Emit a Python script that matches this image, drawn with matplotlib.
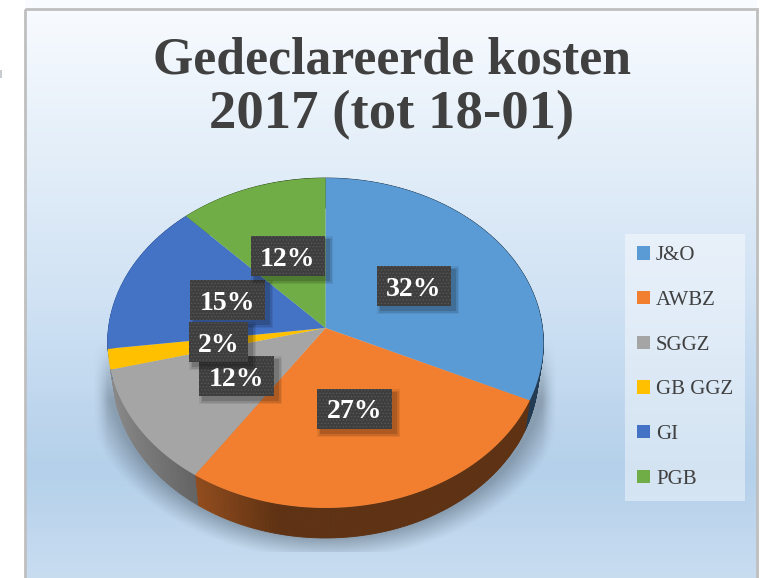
import numpy as np
import matplotlib
matplotlib.use('Agg')
import matplotlib.pyplot as plt
from matplotlib.patches import Rectangle, Patch

labels = ['J&O', 'AWBZ', 'SGGZ', 'GB GGZ', 'GI', 'PGB']
values = [32, 27.4, 11.6, 2, 15, 12]
colors = ['#5B9BD5', '#F27F30', '#A5A5A5', '#FFC000', '#4472C4', '#70AD47']
title_1 = 'Gedeclareerde kosten'
title_2 = '2017 (tot 18-01)'

plt.rcParams['font.family'] = ['Liberation Serif', 'DejaVu Serif']
plt.rcParams['hatch.linewidth'] = 0.6

W, H = 764, 578
fig = plt.figure(figsize=(W / 100, H / 100), dpi=100)
ax = fig.add_axes([0, 0, 1, 1])


# cirkel -> scherm met perspectief (achterkant kleiner dan voorkant)
def project(angle, depth=0):
    u = np.sin(angle)
    v = np.cos(angle)
    k = 0.0909
    den = 1 + k * v
    x = 325.5 + 217 * u / den * (1 - depth * 0.00077)
    y = 328 - 163.6 * v / den + depth
    return x, y


# achtergrond
stops_y = [9, 120, 300, 470, 578]
stops_c = np.array([[248, 251, 255], [232, 241, 250], [208, 226, 244], [180, 208, 234], [201, 221, 241]]) / 255
ys = np.arange(H)
grad = np.stack([np.interp(ys, stops_y, stops_c[:, i]) for i in range(3)], axis=1)[:, None, :]
bg = ax.imshow(grad, extent=(25, 757, H, 0), aspect='auto', zorder=0)

# schaduw onder de taart
xx, yy = np.meshgrid(np.arange(W), np.arange(H))
r = np.sqrt(((xx - 326) / 218) ** 2 + ((yy - 373) / 165) ** 2)
alpha = np.clip((1.13 - r) / 0.13, 0, 1) ** 1.1 * 0.40
alpha *= np.clip((yy - 340) / 60, 0, 1)
alpha *= np.clip((xx - 93) / 14, 0, 1) * np.clip((556 - xx) / 14, 0, 1)
alpha[yy > 551] = 0
shadow = np.zeros((H, W, 4))
shadow[..., :3] = (0.25, 0.3, 0.35)
shadow[..., 3] = alpha
ax.imshow(shadow, extent=(0, W, H, 0), aspect='auto', zorder=1)

# zijkant en bovenkant
fr = np.cumsum([0] + values) / sum(values) * 2 * np.pi
for i in range(len(values)):
    # geel valt aan de zijkant weg achter de rand
    if labels[i] == 'GB GGZ':
        continue
    t = np.linspace(fr[i], fr[i + 1], max(int(values[i] * 6), 4))
    base = np.array(matplotlib.colors.to_rgb(colors[i]))
    for a, b in zip(t[:-1], t[1:]):
        xa, ya = project(a)
        xb, yb = project(b)
        xc, yc = project(b, 30)
        xd, yd = project(a, 30)
        shade = np.interp(np.sin((a + b) / 2), [-1, -0.55, -0.2, 1], [0.85, 0.6, 0.39, 0.39])
        ax.fill([xa, xb, xc, xd], [ya, yb, yc, yd], color=base * shade, lw=0.6, zorder=2)

for i in range(len(values)):
    t = np.linspace(fr[i], fr[i + 1], 120)
    x, y = project(t)
    ax.fill(np.r_[325.5, x], np.r_[328, y], color=colors[i], lw=0, zorder=3)

# labels op de taart: links, boven, breedte, tekst
boxes = [
    (377, 266, 74, '32%'),
    (317, 389, 75, '27%'),
    (199, 356, 75, '12%'),
    (190, 280, 75, '15%'),
    (189, 322, 59, '2%'),
    (251, 236, 74, '12%'),
]
for n, (bx, by, bw, txt) in enumerate(boxes):
    z = 4 + n * 0.1
    for grow, al in [(4, 0.07), (2.5, 0.1), (1, 0.14)]:
        ax.add_patch(Rectangle((bx + 4 - grow, by + 4 - grow), bw + 2 * grow, 40 + 2 * grow,
                               fc='black', alpha=al, lw=0, zorder=z))
    ax.add_patch(Rectangle((bx, by), bw, 40, fc='#3E3E3E', ec='#565656', hatch='.....', lw=0, zorder=z + 0.01))
    ax.text(bx + bw / 2, by + 23, txt, color='white', fontsize=20, fontweight='bold',
            ha='center', va='center', zorder=z + 0.02)

ax.text(392, 60, title_1, color='#404040', fontsize=37.3, fontweight='bold', ha='center',
        va='center', zorder=5)
ax.text(392, 115, title_2, color='#404040', fontsize=39.4, fontweight='bold', ha='center',
        va='center', zorder=5)

# legenda
handles = [Patch(fc=c, ec='none', label=l) for c, l in zip(colors, labels)]
leg = ax.legend(handles=handles, loc='upper left', bbox_to_anchor=(625 / W, 1 - 234 / H),
                borderaxespad=0, fontsize=15, labelcolor='#404040', frameon=True, fancybox=False,
                facecolor='white', edgecolor='none', framealpha=0.42, handlelength=0.62, handleheight=0.62,
                handletextpad=0.29, labelspacing=1.23, borderpad=0.58)
leg.set_zorder(5)

# kader
ax.add_patch(Rectangle((25, 9), 732, 575, fc='none', ec='#BFBFBF', lw=2, zorder=6))
ax.add_patch(Rectangle((-4, 70), 6, 8, fc='#C8CCD0', lw=0, zorder=6))

ax.set_xlim(0, W)
ax.set_ylim(H, 0)
ax.axis('off')
fig.savefig('out.png', dpi=100, facecolor='white')
